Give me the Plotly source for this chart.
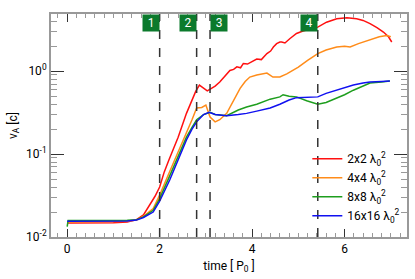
import plotly.graph_objects as go

# ---- data ----
series_names = ["2x2 λ<sub>0</sub><sup>2</sup>", "4x4 λ<sub>0</sub><sup>2</sup>",
                "8x8 λ<sub>0</sub><sup>2</sup>", "16x16 λ<sub>0</sub><sup>2</sup>"]
series_colors = ["#FF1010", "#FF8C1A", "#1E9E1E", "#1010F0"]

t_red = [0, 0.5, 1.0, 1.3, 1.5, 1.65, 1.8, 1.9, 2.0, 2.1, 2.2, 2.4, 2.58, 2.7, 2.78, 2.86,
         2.95, 3.03, 3.12, 3.2, 3.3, 3.4, 3.52, 3.6, 3.67, 3.75, 3.81, 3.9, 4.0, 4.1, 4.2,
         4.32, 4.4, 4.46, 4.53, 4.6, 4.64, 4.71, 4.82, 4.96, 5.1, 5.25, 5.42, 5.61, 5.83,
         6.05, 6.26, 6.4, 6.55, 6.7, 6.84, 6.95, 7.02]
v_red = [0.0148, 0.0148, 0.0149, 0.0152, 0.0162, 0.0185, 0.025, 0.031, 0.040, 0.061, 0.085,
         0.16, 0.31, 0.45, 0.57, 0.68, 0.62, 0.58, 0.62, 0.66, 0.74, 0.86, 1.02, 1.05, 1.13,
         1.10, 1.24, 1.22, 1.32, 1.40, 1.38, 1.63, 1.75, 1.96, 2.15, 2.25, 2.25, 2.19, 2.48,
         2.85, 3.06, 3.2, 3.4, 3.9, 4.3, 4.4, 4.3, 4.1, 3.75, 3.35, 2.97, 2.6, 2.25]

t_org = [0, 0.5, 1.0, 1.3, 1.5, 1.65, 1.86, 2.0, 2.22, 2.4, 2.58, 2.7, 2.8, 2.91, 3.0,
         3.09, 3.2, 3.3, 3.45, 3.6, 3.74, 3.85, 3.95, 4.1, 4.25, 4.32, 4.45, 4.6, 4.75,
         4.89, 5.0, 5.2, 5.42, 5.6, 5.83, 6.0, 6.12, 6.3, 6.55, 6.75, 6.91, 7.0]
v_org = [0.0152, 0.0152, 0.0153, 0.0155, 0.016, 0.0178, 0.022, 0.032, 0.062, 0.105, 0.18,
         0.26, 0.36, 0.365, 0.39, 0.28, 0.245, 0.26, 0.31, 0.45, 0.62, 0.75, 0.85, 0.90,
         0.93, 0.95, 0.85, 0.85, 0.93, 1.03, 1.12, 1.35, 1.63, 1.8, 1.96, 2.0, 1.96, 2.15,
         2.4, 2.6, 2.7, 2.6]

t_grn = [0, 0.02, 0.5, 1.0, 1.3, 1.5, 1.65, 1.86, 2.0, 2.22, 2.4, 2.58, 2.7, 2.8, 2.95,
         3.09, 3.2, 3.45, 3.7, 3.88, 4.1, 4.39, 4.6, 4.67, 4.8, 4.96, 5.18, 5.42, 5.6,
         5.83, 6.0, 6.19, 6.4, 6.55, 6.8, 6.98]
v_grn = [0.0133, 0.0158, 0.0158, 0.0158, 0.0159, 0.0162, 0.0175, 0.021, 0.029, 0.055,
         0.095, 0.16, 0.21, 0.26, 0.30, 0.32, 0.30, 0.29, 0.34, 0.37, 0.40, 0.46, 0.49,
         0.52, 0.50, 0.49, 0.44, 0.40, 0.42, 0.47, 0.52, 0.59, 0.66, 0.72, 0.74, 0.76]

t_blu = [0, 0.5, 1.0, 1.3, 1.5, 1.65, 1.86, 2.0, 2.22, 2.4, 2.58, 2.7, 2.8, 2.95, 3.07,
         3.2, 3.45, 3.7, 3.88, 4.1, 4.39, 4.6, 4.8, 4.96, 5.2, 5.42, 5.6, 5.83, 6.0, 6.19,
         6.4, 6.55, 6.8, 6.98]
v_blu = [0.0155, 0.0155, 0.0155, 0.0156, 0.016, 0.0172, 0.020, 0.027, 0.049, 0.087, 0.148,
         0.20, 0.245, 0.30, 0.32, 0.30, 0.29, 0.30, 0.31, 0.33, 0.36, 0.40, 0.45, 0.48,
         0.49, 0.49, 0.54, 0.59, 0.63, 0.68, 0.72, 0.74, 0.75, 0.76]

marker_times = [2.0, 2.8, 3.09, 5.42]
marker_labels = ["1", "2", "3", "4"]
marker_anchor = ["right", "right", "left", "right"]

x_tickvals = [0, 2, 4, 6]
y_tickvals = [0.01, 0.1, 1]
y_ticktext = ["10<sup>-2</sup>", "10<sup>-1</sup>", "10<sup>0</sup>"]
y_minor = [m * 10 ** e for e in (-2, -1, 0) for m in range(2, 10)]

# ---- figure ----
fig = go.Figure()
for name, color, t, v in zip(series_names, series_colors,
                             [t_red, t_org, t_grn, t_blu], [v_red, v_org, v_grn, v_blu]):
    fig.add_trace(go.Scatter(x=t, y=v, mode="lines", name=name,
                             line=dict(color=color, width=1.5)))

for tm, lab, anc in zip(marker_times, marker_labels, marker_anchor):
    fig.add_shape(type="line", x0=tm, x1=tm, xref="x", y0=0, y1=1, yref="paper",
                  line=dict(color="#333333", width=1.5, dash="dash"), layer="above")
    fig.add_annotation(x=tm, y=1, xref="x", yref="paper", xanchor=anc, yanchor="top",
                       text=lab, showarrow=False, bgcolor="#0B7A2C",
                       font=dict(color="white", size=12, family="Roboto"),
                       width=13, height=13, borderpad=1.5)

axis_common = dict(showline=True, linecolor="#999999", linewidth=2, mirror="ticks",
                   ticks="inside", showgrid=False, zeroline=False, automargin=False,
                   tickfont=dict(size=12, family="Roboto", color="black"))

fig.update_xaxes(range=[-0.35, 7.35], tickvals=x_tickvals, ticklen=8, tickcolor="#333333",
                 tickwidth=1,
                 minor=dict(tickvals=[i * 0.2 for i in range(-1, 37)], ticks="inside",
                            ticklen=4, tickcolor="#999999", tickwidth=1),
                 title=dict(text="time [ P<sub>0</sub> ]", font=dict(size=12, family="Roboto"),
                            standoff=6),
                 **axis_common)
fig.update_yaxes(type="log", range=[-2, 0.69], tickvals=y_tickvals, ticktext=y_ticktext,
                 ticklen=13, tickcolor="#333333", tickwidth=1,
                 minor=dict(tickvals=y_minor, ticks="inside", ticklen=6, tickcolor="#999999",
                            tickwidth=1),
                 title=dict(text="v<sub>A</sub> [c]", font=dict(size=12, family="Roboto"),
                            standoff=6),
                 **axis_common)

fig.update_layout(width=415, height=279, margin=dict(l=51, r=8, t=14, b=42),
                  plot_bgcolor="white", paper_bgcolor="white",
                  font=dict(family="Roboto", size=12, color="black"),
                  legend=dict(x=0.72, y=0.03, xanchor="left", yanchor="bottom",
                              bgcolor="rgba(0,0,0,0)", font=dict(size=12),
                              tracegroupgap=0, itemwidth=30))

fig.write_html("out.html", config={"displayModeBar": False},
               post_script="document.body.style.margin='0';")
